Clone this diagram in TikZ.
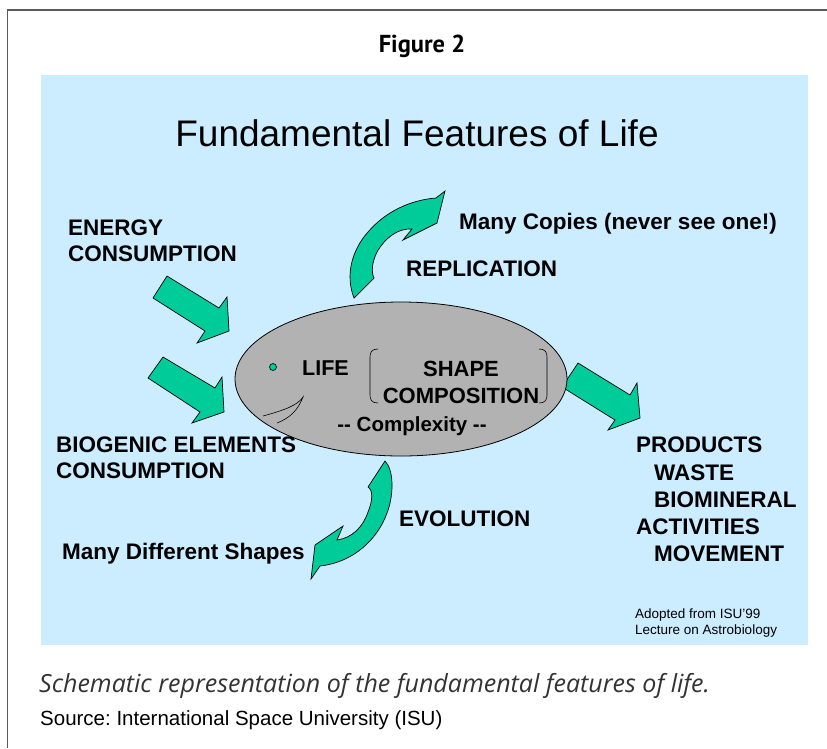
\documentclass[tikz,border=0pt]{standalone}
\usepackage{fontspec}
\setmainfont{Liberation Sans}
\newfontfamily\figfont{PT Sans}
\newfontfamily\capfont[Ligatures=NoCommon]{Open Sans}
\definecolor{skyblue}{RGB}{204,236,255}
\definecolor{arrowgreen}{RGB}{0,204,153}
\definecolor{blobgray}{RGB}{178,178,178}
\definecolor{framegray}{RGB}{90,90,90}
\tikzset{
  lbl/.style={anchor=base west, inner sep=0pt, font=\bfseries\fontsize{22.5}{26}\selectfont},
  lblc/.style={anchor=base, inner sep=0pt, font=\bfseries\fontsize{22}{26}\selectfont},
  greenarrow/.style={fill=arrowgreen, draw=black, line width=0.7pt, line join=miter},
  note/.style={anchor=base west, inner sep=0pt, font=\fontsize{13.5}{16}\selectfont},
}
\frenchspacing
\begin{document}
\begin{tikzpicture}[x=1pt,y=-1pt]
\useasboundingbox (0,0) rectangle (827,748);
% frame
\draw[framegray, line width=1.4pt] (827,10) -- (7.7,10) -- (7.7,748);
% figure heading
\node[anchor=base, inner sep=0pt, font=\figfont\bfseries\fontsize{24.5}{28}\selectfont] (fig) at (422,52) {Figure 2};
% blue panel
\fill[skyblue] (41,75) rectangle (808,645);
% title
\node[anchor=base, inner sep=0pt, font=\fontsize{37}{44}\selectfont] (title) at (417,146) {Fundamental Features of Life};

% products arrow (behind the ellipse)
\draw[greenarrow] (578,363) -- (630,395) -- (637,383) -- (640,418) -- (608,430) -- (615,420) -- (562,387) -- cycle;

% central ellipse
\draw[fill=blobgray, line width=0.8pt] (401,379) ellipse [x radius=166, y radius=77];

% energy arrow
\draw[greenarrow] (167,276) -- (219,308) -- (227,297) -- (229,331) -- (197,343) -- (205,331) -- (153,298) -- cycle;
% biogenic arrow
\draw[greenarrow] (163,357) -- (215,388) -- (222,377) -- (224,412) -- (192,423) -- (200,412) -- (148,378) -- cycle;
% replication arrow
\draw[greenarrow] (354,298) .. controls (345,275) and (352,250) .. (368,232)
  .. controls (385,212) and (410,200) .. (436,198) -- (445,191) -- (437,223) -- (403,240) -- (412,229)
  .. controls (398,228) and (385,238) .. (377,252)
  .. controls (372,262) and (371,272) .. (374,278) -- cycle;
% evolution arrow
\draw[greenarrow] (385,461) .. controls (394,470) and (394,495) .. (387,513)
  .. controls (378,538) and (355,562) .. (320,566) -- (311,579) -- (315,545) -- (343,526) -- (337,540)
  .. controls (352,538) and (363,527) .. (368,512)
  .. controls (373,500) and (373,490) .. (368,487) -- cycle;

% inside the ellipse
\draw[fill=arrowgreen, line width=0.6pt] (273,367) circle [radius=3.5];
\draw[line width=0.6pt] (263,416) .. controls (285,410) and (298,405) .. (303,397)
  .. controls (298,410) and (290,418) .. (277,423);
\draw[line width=0.6pt] (378,349) .. controls (372,349) and (370,352) .. (370,357) -- (370,395) .. controls (370,400) and (372,403) .. (378,403);
\draw[line width=0.6pt] (539,349) .. controls (545,349) and (547,352) .. (547,357) -- (547,395) .. controls (547,400) and (545,403) .. (539,403);
\node[lbl, font=\bfseries\fontsize{21.5}{25}\selectfont] (life) at (302,375) {LIFE};
\node[lblc] (shape) at (461,376) {SHAPE};
\node[lblc] (comp) at (461,403) {COMPOSITION};
\node[lblc, font=\bfseries\fontsize{20.5}{24}\selectfont] (cplx) at (412,431) {-{}- Complexity -{}-};

% labels
\node[lbl] (energy) at (68,235) {ENERGY};
\node[lbl] (cons1) at (68,261) {CONSUMPTION};
\node[lbl] (copies) at (459,229) {Many Copies (never see one!)};
\node[lbl] (repl) at (406,276) {REPLICATION};
\node[lbl] (bio) at (56,452) {BIOGENIC ELEMENTS};
\node[lbl] (cons2) at (56,478) {CONSUMPTION};
\node[lbl] (evo) at (399,526) {EVOLUTION};
\node[lbl] (shapes) at (62,559) {Many Different Shapes};
\node[lbl] (prod) at (636,452) {PRODUCTS};
\node[lbl] (waste) at (654,480) {WASTE};
\node[lbl] (biomin) at (654,507) {BIOMINERAL};
\node[lbl] (act) at (636,534) {ACTIVITIES};
\node[lbl] (move) at (654,561) {MOVEMENT};
\node[note] (adopt1) at (635,618) {Adopted from ISU’99};
\node[note] (adopt2) at (635,634) {Lecture on Astrobiology};

% caption
\node[anchor=base west, inner sep=0pt, font=\capfont\itshape\fontsize{25}{30}\selectfont, text=black!80] (caption) at (39,692) {Schematic representation of the fundamental features of life.};
\node[anchor=base west, inner sep=0pt, font=\fontsize{20.5}{24}\selectfont] (source) at (40,725) {Source: International Space University (ISU)};
\end{tikzpicture}
\end{document}
